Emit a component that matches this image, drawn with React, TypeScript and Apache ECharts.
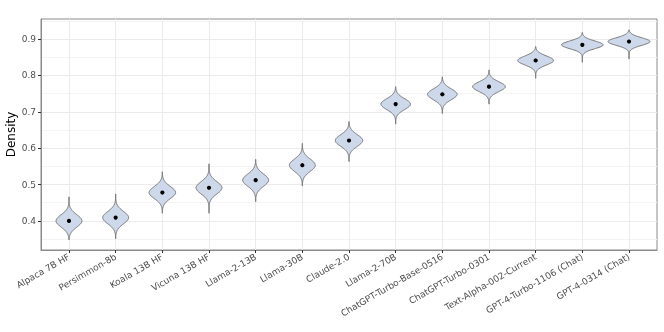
import React, { useEffect, useRef } from "react";
import * as echarts from "echarts";

const categories = [
  "Alpaca 7B HF",
  "Persimmon-8b",
  "Koala 13B HF",
  "Vicuna 13B HF",
  "Llama-2-13B",
  "Llama-30B",
  "Claude-2.0",
  "Llama-2-70B",
  "ChatGPT-Turbo-Base-0516",
  "ChatGPT-Turbo-0301",
  "Text-Alpha-002-Current",
  "GPT-4-Turbo-1106 (Chat)",
  "GPT-4-0314 (Chat)",
];
const means = [0.4, 0.409, 0.478, 0.491, 0.512, 0.553, 0.621, 0.721, 0.748, 0.769, 0.841, 0.884, 0.893];
const spreads = [0.017, 0.017, 0.0166, 0.017, 0.017, 0.017, 0.0161, 0.0149, 0.0149, 0.0135, 0.0123, 0.0106, 0.0105];
const lows = [0.348, 0.351, 0.421, 0.421, 0.453, 0.496, 0.563, 0.666, 0.695, 0.721, 0.792, 0.836, 0.845];
const highs = [0.466, 0.474, 0.535, 0.557, 0.569, 0.613, 0.673, 0.769, 0.796, 0.815, 0.879, 0.918, 0.925];

const yMajor = [0.4, 0.5, 0.6, 0.7, 0.8, 0.9];
const yMinor = [0.35, 0.45, 0.55, 0.65, 0.75, 0.85, 0.95];
const xTicks = categories.map((_, i) => i);

const FONT = "DejaVu Sans";

export default function App() {
  const ref = useRef<HTMLDivElement>(null);
  useEffect(() => {
    if (!ref.current) return;
    const chart = echarts.init(ref.current, null, { renderer: "svg" });
    const minSd = Math.min(...spreads);
    const data = categories.map((_, i) => [i, means[i], spreads[i], lows[i], highs[i]]);
    chart.setOption({
      animation: false,
      grid: {
        left: 41,
        right: 7,
        top: 19,
        bottom: 82,
        containLabel: false,
        outerBoundsMode: "none",
        show: true,
        borderColor: "#8a8a8a",
        borderWidth: 1,
      },
      xAxis: {
        type: "value",
        min: -0.6,
        max: 12.6,
        axisLine: { show: true, onZero: false, lineStyle: { color: "#8a8a8a", width: 1 } },
        axisTick: { show: true, customValues: xTicks, length: 3, lineStyle: { color: "#333" } },
        axisLabel: {
          customValues: xTicks,
          rotate: 30,
          fontSize: 9,
          color: "#4d4d4d",
          fontFamily: FONT,
          margin: 6,
          formatter: (v: number) => categories[Math.round(v)] ?? "",
        },
        splitLine: { show: true, lineStyle: { color: "#ebebeb", width: 1 } },
      },
      yAxis: [
        {
          type: "value",
          min: 0.32,
          max: 0.955,
          name: "Density",
          nameLocation: "middle",
          nameRotate: 90,
          nameGap: 24,
          nameMoveOverlap: false,
          nameTextStyle: { fontSize: 12, color: "#000", fontFamily: FONT },
          axisLine: { show: true, onZero: false, lineStyle: { color: "#8a8a8a", width: 1 } },
          axisTick: { show: true, customValues: yMajor, length: 3, lineStyle: { color: "#333" } },
          axisLabel: {
            customValues: yMajor,
            fontSize: 9,
            color: "#4d4d4d",
            fontFamily: FONT,
            margin: 5,
            formatter: (v: number) => v.toFixed(1),
          },
          splitLine: { show: true, lineStyle: { color: "#ebebeb", width: 1 } },
        },
        {
          type: "value",
          min: 0.32,
          max: 0.955,
          position: "left",
          axisLine: { show: false, onZero: false },
          axisTick: { show: false, customValues: yMinor },
          axisLabel: { show: false, customValues: yMinor },
          splitLine: { show: true, lineStyle: { color: "#f4f4f4", width: 1 } },
        },
      ],
      series: [
        {
          type: "custom",
          xAxisIndex: 0,
          yAxisIndex: 0,
          z: 5,
          data,
          renderItem: (params: any, api: any) => {
            const i = api.value(0);
            const m = api.value(1);
            const sd = api.value(2);
            const lo = api.value(3);
            const hi = api.value(4);
            const hw = (0.45 * minSd) / sd;
            const n = 80;
            const right: number[][] = [];
            const left: number[][] = [];
            for (let k = 0; k <= n; k++) {
              const y = lo + ((hi - lo) * k) / n;
              const z = (y - m) / sd;
              const w = hw * Math.exp(-0.5 * z * z);
              right.push(api.coord([i + w, y]));
              left.push(api.coord([i - w, y]));
            }
            const pts = right.concat(left.reverse());
            const c = api.coord([i, m]);
            return {
              type: "group",
              children: [
                {
                  type: "polygon",
                  shape: { points: pts },
                  style: { fill: "#cdd9ea", stroke: "#6b6b6b", lineWidth: 0.9 },
                },
                {
                  type: "circle",
                  shape: { cx: c[0], cy: c[1], r: 2.1 },
                  style: { fill: "#000" },
                },
              ],
            };
          },
        },
      ],
    });
    return () => chart.dispose();
  }, []);
  return (
    <div
      ref={ref}
      style={{ position: "fixed", left: 0, top: 0, width: 664, height: 332 }}
    />
  );
}
